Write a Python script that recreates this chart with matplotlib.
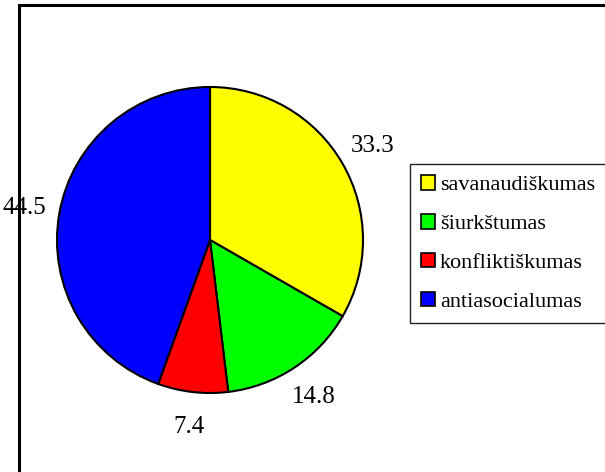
import matplotlib
matplotlib.use("Agg")
import matplotlib.pyplot as plt
from matplotlib.patches import Rectangle

# Data
categories = ["savanaudiškumas", "šiurkštumas", "konfliktiškumas", "antiasocialumas"]
values = [33.3, 14.8, 7.4, 44.5]
value_labels = ["33.3", "14.8", "7.4", "44.5"]
colors = ["#FFFF00", "#00FF00", "#FF0000", "#0000FF"]

W, H = 605, 472
plt.rcParams["font.family"] = ["Liberation Serif", "DejaVu Serif"]

fig = plt.figure(figsize=(W / 100, H / 100), dpi=100)
ax = fig.add_axes([0, 0, 1, 1])

wedges, texts = ax.pie(
    values,
    labels=value_labels,
    colors=colors,
    startangle=90,
    counterclock=False,
    center=(210, H - 240),
    radius=153,
    labeldistance=1.23,
    wedgeprops=dict(edgecolor="black", linewidth=1.5),
    textprops=dict(fontsize=18, ha="center", va="center", color="black"),
    frame=True,
)

ax.set_xlim(0, W)
ax.set_ylim(0, H)
ax.set_aspect("auto")
ax.axis("off")

# outer chart frame (right and bottom edges fall outside the picture)
frame = Rectangle((19, -50), W + 100, H - 5 + 50, fill=False,
                  edgecolor="black", linewidth=2.2, clip_on=False)
ax.add_patch(frame)

leg = ax.legend(
    wedges, categories,
    loc="center",
    bbox_to_anchor=(508, H - 243.5),
    bbox_transform=ax.transData,
    fontsize=16,
    frameon=True,
    fancybox=False,
    framealpha=1,
    edgecolor="#222222",
    handlelength=0.62,
    handleheight=0.62,
    handletextpad=0.25,
    labelspacing=0.84,
    borderpad=0.5,
    borderaxespad=0,
)
leg.get_frame().set_linewidth(1.0)
for h in leg.legend_handles:
    h.set_linewidth(1.2)

fig.savefig("out.png", dpi=100)
